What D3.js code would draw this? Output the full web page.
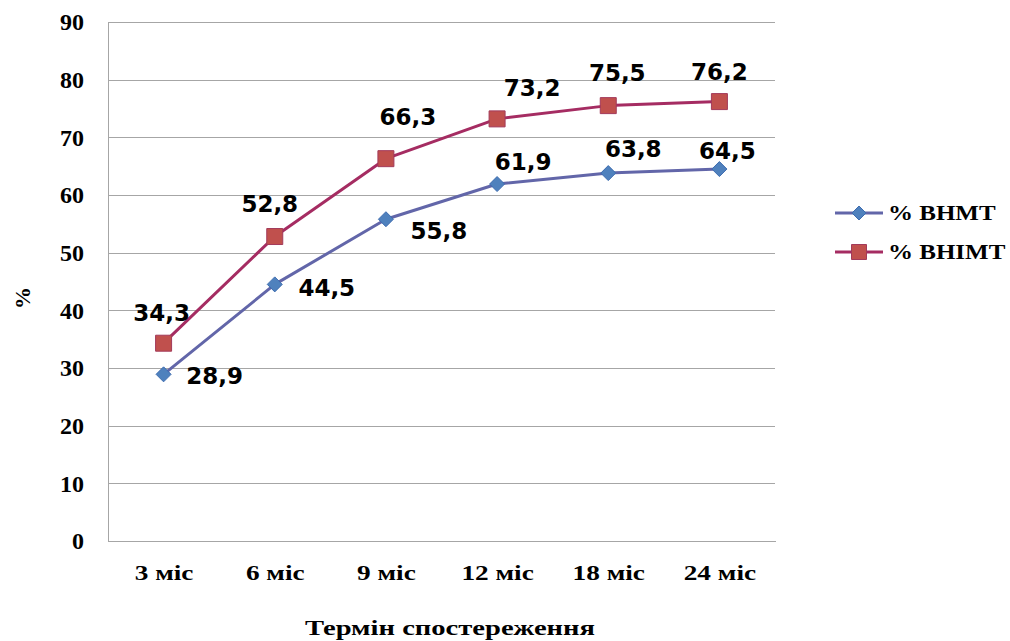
<!DOCTYPE html>
<html>
<head>
<meta charset="utf-8">
<script src="https://cdn.jsdelivr.net/npm/d3@7"></script>
<style>
  html, body { margin: 0; padding: 0; background: #ffffff; }
  svg { display: block; }
</style>
</head>
<body>
<svg id="chart" width="1010" height="641"></svg>
<script>
// Chart data
var categories = ["3 міс", "6 міс", "9 міс", "12 міс", "18 міс", "24 міс"];
var seriesNames = ["% ВНМТ", "% ВНІМТ"];
var valuesVNMT = [28.9, 44.5, 55.8, 61.9, 63.8, 64.5];
var valuesVNIMT = [34.3, 52.8, 66.3, 73.2, 75.5, 76.2];
var yTicks = [0, 10, 20, 30, 40, 50, 60, 70, 80, 90];

// Hand-placed label offsets (px) as in the original workbook
var labelOffsetsVNMT = [[51, 1], [52, 3], [53, 11], [26, -22], [25, -24], [8, -18]];
var labelOffsetsVNIMT = [[-2, -30], [-5, -33], [22, -42], [35, -31], [9, -33], [0, -30]];

var svg = d3.select("#chart");

var plot = { left: 108, right: 775, top: 22, bottom: 541 };

var x = d3.scalePoint()
    .domain(categories)
    .range([plot.left, plot.right])
    .padding(0.5);

var y = d3.scaleLinear()
    .domain([0, 90])
    .range([plot.bottom, plot.top]);

var locale = d3.formatLocale({ decimal: ",", thousands: " ", grouping: [3], currency: ["", ""] });
var fmt = locale.format(".1f");

var gridColor = "#a6a6a6";
var serif = "'Liberation Serif', 'Times New Roman', serif";

// Gridlines and y tick labels
var yAxis = svg.append("g")
    .attr("transform", "translate(" + plot.left + ",0)")
    .call(d3.axisLeft(y).tickValues(yTicks).tickSize(-(plot.right - plot.left)).tickPadding(24));

yAxis.select(".domain").remove();
yAxis.selectAll(".tick line")
    .attr("stroke", gridColor)
    .attr("stroke-width", 1)
    .style("shape-rendering", "crispEdges");
yAxis.selectAll(".tick text")
    .style("font-family", serif)
    .style("font-weight", "bold")
    .style("font-size", "24px")
    .attr("fill", "#000");

// Left axis line
svg.append("line")
    .attr("x1", plot.left).attr("x2", plot.left)
    .attr("y1", plot.top).attr("y2", plot.bottom)
    .attr("stroke", gridColor)
    .style("shape-rendering", "crispEdges");

// Category labels
var xAxis = svg.append("g")
    .attr("transform", "translate(0," + plot.bottom + ")")
    .call(d3.axisBottom(x).tickSize(0).tickPadding(0));

xAxis.select(".domain")
    .attr("stroke", gridColor)
    .style("shape-rendering", "crispEdges");
xAxis.selectAll(".tick text")
    .attr("y", 39)
    .attr("dy", 0)
    .attr("transform", function (d) { return "translate(" + x(d) + ",0) scale(1.3,1) translate(" + (-x(d)) + ",0)"; })
    .style("font-family", serif)
    .style("font-weight", "bold")
    .style("font-size", "21px")
    .attr("fill", "#000");
// tick groups are already translated, so undo the scale-origin trick
xAxis.selectAll(".tick text").attr("transform", "scale(1.3,1)");

// Axis titles
svg.append("text")
    .attr("transform", "translate(450,635) scale(1.3,1)")
    .attr("text-anchor", "middle")
    .style("font-family", serif)
    .style("font-weight", "bold")
    .style("font-size", "22px")
    .text("Термін спостереження");

svg.append("text")
    .attr("transform", "translate(30,298) rotate(-90)")
    .attr("text-anchor", "middle")
    .style("font-family", serif)
    .style("font-weight", "bold")
    .style("font-size", "22px")
    .text("%");

// Series
var series = [
    { name: seriesNames[0], values: valuesVNMT, offsets: labelOffsetsVNMT, line: "#6266a9", fill: "#4f81bd", stroke: "#3d6cb0", shape: "diamond" },
    { name: seriesNames[1], values: valuesVNIMT, offsets: labelOffsetsVNIMT, line: "#a52c62", fill: "#c0504d", stroke: "#a33a5a", shape: "square" }
];

var line = d3.line()
    .x(function (d, i) { return x(categories[i]); })
    .y(function (d) { return y(d); });

function markerPath(shape, r) {
    if (shape === "diamond") {
        return "M0," + (-r) + "L" + r + ",0L0," + r + "L" + (-r) + ",0Z";
    }
    return "M" + (-r) + "," + (-r) + "H" + r + "V" + r + "H" + (-r) + "Z";
}

series.forEach(function (s) {
    svg.append("path")
        .datum(s.values)
        .attr("d", line)
        .attr("fill", "none")
        .attr("stroke", s.line)
        .attr("stroke-width", 3)
        .attr("stroke-linejoin", "round");

    svg.selectAll(".marker-" + s.shape)
        .data(s.values)
        .enter()
        .append("path")
            .attr("class", "marker-" + s.shape)
            .attr("transform", function (d, i) { return "translate(" + x(categories[i]) + "," + y(d) + ")"; })
            .attr("d", markerPath(s.shape, s.shape === "diamond" ? 7.5 : 8))
            .attr("fill", s.fill)
            .attr("stroke", s.stroke)
            .attr("stroke-width", 1);
});

// Data labels on top
series.forEach(function (s) {
    svg.selectAll(".label-" + s.shape)
        .data(s.values)
        .enter()
        .append("text")
            .attr("class", "label-" + s.shape)
            .attr("x", function (d, i) { return x(categories[i]) + s.offsets[i][0]; })
            .attr("y", function (d, i) { return y(d) + s.offsets[i][1]; })
            .attr("dy", "0.36em")
            .attr("text-anchor", "middle")
            .style("font-family", "'DejaVu Sans', Verdana, sans-serif")
            .style("font-weight", "bold")
            .style("font-size", "23px")
            .attr("fill", "#000")
            .text(function (d) { return fmt(d); });
});

// Legend
var legend = svg.selectAll(".legend")
    .data(series)
    .enter()
    .append("g")
        .attr("class", "legend")
        .attr("transform", function (d, i) { return "translate(835," + (213 + i * 39) + ")"; });

legend.append("line")
    .attr("x1", 0).attr("x2", 48)
    .attr("stroke", function (d) { return d.line; })
    .attr("stroke-width", 3);

legend.append("path")
    .attr("transform", "translate(24,0)")
    .attr("d", function (d) { return markerPath(d.shape, d.shape === "diamond" ? 7 : 7.5); })
    .attr("fill", function (d) { return d.fill; })
    .attr("stroke", function (d) { return d.stroke; });

legend.append("text")
    .attr("transform", "translate(53,7) scale(1.25,1)")
    .style("font-family", serif)
    .style("font-weight", "bold")
    .style("font-size", "20px")
    .attr("fill", "#000")
    .text(function (d) { return d.name; });
</script>
</body>
</html>
